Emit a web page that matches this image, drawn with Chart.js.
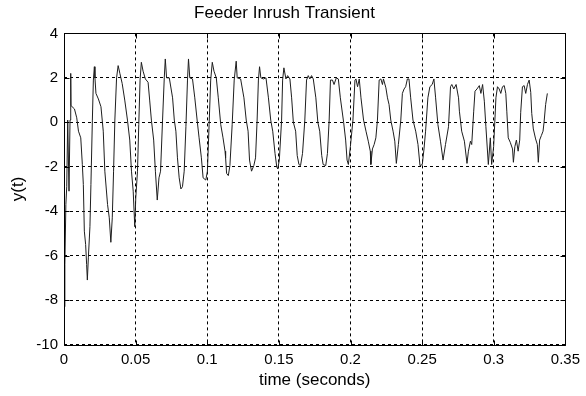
<!DOCTYPE html>
<html>
<head>
<meta charset="utf-8">
<script src="https://cdn.jsdelivr.net/npm/chart.js@4/dist/chart.umd.min.js"></script>
<style>
html,body{margin:0;padding:0;background:#fff;}
#wrap{width:586px;height:396px;}
</style>
</head>
<body>
<div id="wrap"><canvas id="c" width="586" height="396"></canvas></div>
<script>
// ---- data ----
const timeSec = [
0.0003,0.0006,0.0013,0.0019,0.0026,0.0035,0.0042,0.0047,0.0049,0.0073,
0.0089,0.0101,0.0117,0.0128,0.0135,0.0142,0.0151,0.0158,0.0163,0.0170,
0.0181,0.0188,0.0198,0.0205,0.0212,0.0216,0.0223,0.0240,0.0258,0.0274,
0.0285,0.0304,0.0316,0.0327,0.0337,0.0346,0.0355,0.0367,0.0378,0.0390,
0.0406,0.0424,0.0443,0.0459,0.0471,0.0483,0.0494,0.0501,0.0513,0.0522,
0.0531,0.0540,0.0552,0.0568,0.0587,0.0598,0.0610,0.0626,0.0638,0.0651,
0.0663,0.0674,0.0688,0.0700,0.0707,0.0716,0.0735,0.0758,0.0770,0.0781,
0.0792,0.0804,0.0816,0.0827,0.0839,0.0851,0.0862,0.0869,0.0878,0.0897,
0.0913,0.0931,0.0943,0.0959,0.0971,0.0990,0.1001,0.1013,0.1024,0.1035,
0.1047,0.1063,0.1077,0.1094,0.1110,0.1124,0.1128,0.1135,0.1147,0.1158,
0.1174,0.1188,0.1202,0.1209,0.1233,0.1256,0.1272,0.1285,0.1295,0.1309,
0.1325,0.1337,0.1348,0.1357,0.1365,0.1374,0.1392,0.1410,0.1427,0.1443,
0.1457,0.1473,0.1485,0.1492,0.1503,0.1519,0.1526,0.1535,0.1549,0.1561,
0.1577,0.1589,0.1601,0.1617,0.1628,0.1640,0.1651,0.1665,0.1681,0.1693,
0.1705,0.1716,0.1728,0.1740,0.1758,0.1772,0.1785,0.1799,0.1809,0.1827,
0.1839,0.1851,0.1860,0.1874,0.1885,0.1901,0.1915,0.1929,0.1952,0.1966,
0.1976,0.1985,0.1999,0.2017,0.2031,0.2038,0.2049,0.2061,0.2073,0.2091,
0.2108,0.2124,0.2138,0.2142,0.2153,0.2165,0.2177,0.2188,0.2200,0.2212,
0.2223,0.2230,0.2247,0.2258,0.2269,0.2281,0.2297,0.2309,0.2320,0.2334,
0.2351,0.2362,0.2374,0.2385,0.2397,0.2408,0.2420,0.2436,0.2455,0.2471,
0.2485,0.2501,0.2513,0.2524,0.2540,0.2554,0.2570,0.2582,0.2594,0.2610,
0.2628,0.2646,0.2663,0.2684,0.2698,0.2707,0.2721,0.2737,0.2754,0.2760,
0.2776,0.2795,0.2813,0.2823,0.2837,0.2846,0.2860,0.2869,0.2883,0.2899,
0.2910,0.2922,0.2934,0.2945,0.2962,0.2976,0.2985,0.2999,0.3015,0.3026,
0.3038,0.3049,0.3061,0.3073,0.3084,0.3091,0.3101,0.3115,0.3131,0.3137,
0.3147,0.3158,0.3170,0.3181,0.3188,0.3200,0.3212,0.3223,0.3235,0.3247,
0.3258,0.3265,0.3276,0.3292,0.3304,0.3311,0.3320,0.3332,0.3344,0.3351,
0.3362,0.3374
];
const yValues = [
-8.3,-6.4,-3.7,-2.9,0.1,-3.1,0.1,2.2,0.75,0.6,
0.2,-0.4,-0.7,-1.9,-2.8,-4.9,-5.5,-6.4,-7.1,-6.1,
-4.7,-2.8,0.1,1.9,2.5,2.0,1.3,1.05,0.7,-0.4,
-2.2,-3.7,-4.3,-5.4,-4.3,-2.2,0.1,2.0,2.55,2.2,
1.75,1.0,0.1,-0.8,-2.2,-3.1,-4.7,-3.4,-2.2,-0.1,
1.9,2.7,2.3,1.95,1.8,1.0,0.1,-0.8,-2.2,-3.5,
-2.5,-2.2,0.1,2.0,2.85,2.0,2.0,1.1,0.1,-0.4,
-1.6,-2.5,-3.0,-2.9,-2.2,-0.2,1.9,2.85,2.0,1.95,
1.1,0.0,-0.7,-1.6,-2.5,-2.6,-2.2,-0.1,1.9,2.7,
2.3,2.0,1.1,-0.1,-0.7,-1.3,-1.6,-2.3,-2.4,-1.95,
-0.1,1.9,2.75,2.0,1.95,1.1,0.1,-0.4,-1.7,-2.2,
-1.95,-1.6,0.1,1.9,2.5,2.0,1.95,2.0,1.1,0.1,
-0.4,-1.4,-2.0,-2.1,-1.7,0.1,1.9,2.45,1.95,2.1,
1.95,1.1,0.0,-0.4,-1.5,-1.9,-1.95,-1.4,0.1,1.9,
2.1,1.95,2.1,1.95,1.1,0.0,-0.4,-1.5,-1.9,-1.95,
-1.4,0.1,1.9,1.9,1.7,2.0,1.95,1.1,0.0,-0.8,
-1.7,-1.9,-1.1,0.1,1.9,1.95,1.6,1.95,1.1,0.1,
-0.4,-0.85,-1.3,-1.9,-1.2,-1.0,-0.7,0.1,1.9,1.95,
1.7,1.95,1.55,1.1,0.8,0.1,-0.4,-0.85,-1.85,-1.0,
0.1,1.3,1.5,1.6,1.95,1.95,1.1,0.1,-0.4,-1.0,
-1.95,-1.9,-1.2,-0.4,1.1,1.6,1.7,1.95,1.1,-0.1,
-0.85,-1.7,-1.0,-0.2,1.6,1.7,1.5,1.7,1.1,0.5,
-0.4,-0.85,-1.85,-1.3,-0.85,-1.0,0.5,1.4,1.5,1.65,
1.3,1.7,0.95,-0.2,-1.9,-0.7,-1.9,-1.1,1.1,1.6,
1.5,1.3,1.6,1.65,1.3,0.5,-0.7,-0.9,-1.2,-1.8,
-1.1,-0.8,-1.3,-0.8,0.45,1.6,1.65,1.3,1.7,1.9,
1.35,0.4,-0.3,-0.75,-1.0,-1.8,-0.8,-0.6,-0.4,0.0,
0.8,1.3
];
const xTicks = [0, 0.05, 0.1, 0.15, 0.2, 0.25, 0.3, 0.35];
const xTickLabels = ['0', '0.05', '0.1', '0.15', '0.2', '0.25', '0.3', '0.35'];
const yTicks = [-10, -8, -6, -4, -2, 0, 2, 4];
const yTickLabels = ['-10', '-8', '-6', '-4', '-2', '0', '2', '4'];
const chartTitle = 'Feeder Inrush Transient';
const xTitle = 'time (seconds)';
const yTitle = 'y(t)';

const points = timeSec.map((t, i) => ({x: t, y: yValues[i]}));
const FONT = "'Liberation Sans', Arial, sans-serif";

const boxPlugin = {
  id: 'matlabBox',
  afterDatasetsDraw(chart) {
    const {ctx, chartArea: a, scales} = chart;
    ctx.save();
    ctx.strokeStyle = '#000';
    ctx.lineWidth = 1;
    ctx.setLineDash([]);
    const L = Math.round(a.left) + 0.5, R = Math.round(a.right) + 0.5;
    const T = Math.round(a.top) + 0.5, B = Math.round(a.bottom) + 0.5;
    ctx.beginPath();
    ctx.rect(L, T, R - L, B - T);
    ctx.stroke();
    const tl = 5;
    ctx.beginPath();
    scales.x.ticks.forEach(tk => {
      const px = Math.round(scales.x.getPixelForValue(tk.value)) + 0.5;
      ctx.moveTo(px, T); ctx.lineTo(px, T + tl);
      ctx.moveTo(px, B); ctx.lineTo(px, B - tl);
    });
    scales.y.ticks.forEach(tk => {
      const py = Math.round(scales.y.getPixelForValue(tk.value)) + 0.5;
      ctx.moveTo(L, py); ctx.lineTo(L + tl, py);
      ctx.moveTo(R, py); ctx.lineTo(R - tl, py);
    });
    ctx.stroke();
    ctx.restore();
  }
};

new Chart(document.getElementById('c'), {
  type: 'line',
  data: {
    datasets: [{
      data: points,
      borderColor: '#1e1e1e',
      borderWidth: 1,
      pointRadius: 0,
      tension: 0,
      fill: false
    }]
  },
  options: {
    responsive: false,
    animation: false,
    events: [],
    layout: {padding: {left: 0, right: 17, top: 0, bottom: 0}},
    plugins: {
      legend: {display: false},
      tooltip: {enabled: false},
      title: {
        display: true,
        text: chartTitle,
        color: '#000',
        font: {family: FONT, size: 17, weight: 'normal'},
        padding: {top: 3, bottom: 10}
      }
    },
    scales: {
      x: {
        type: 'linear',
        min: 0, max: 0.35,
        afterBuildTicks: s => { s.ticks = xTicks.map(v => ({value: v})); },
        afterFit: s => { s.height = 51.5; },
        ticks: {
          color: '#000',
          font: {family: FONT, size: 15},
          padding: 6,
          maxRotation: 0,
          autoSkip: false,
          callback: (v, i) => xTickLabels[i]
        },
        grid: {color: '#000', lineWidth: 1, drawTicks: false, borderDash: [3, 3]},
        border: {display: false, dash: [3, 3]},
        title: {
          display: true, text: xTitle, color: '#000',
          font: {family: FONT, size: 17}, padding: {top: 2, bottom: 5}
        }
      },
      y: {
        type: 'linear',
        min: -10, max: 4,
        afterBuildTicks: s => { s.ticks = yTicks.map(v => ({value: v})); },
        afterFit: s => { s.width = 64; },
        ticks: {
          color: '#000',
          font: {family: FONT, size: 15},
          padding: 6,
          autoSkip: false,
          callback: (v, i) => yTickLabels[i]
        },
        grid: {color: '#000', lineWidth: 1, drawTicks: false, borderDash: [3, 3]},
        border: {display: false, dash: [3, 3]},
        title: {
          display: true, text: yTitle, color: '#000',
          font: {family: FONT, size: 17}, padding: {top: 8, bottom: 4}
        }
      }
    }
  },
  plugins: [boxPlugin]
});
</script>
</body>
</html>
